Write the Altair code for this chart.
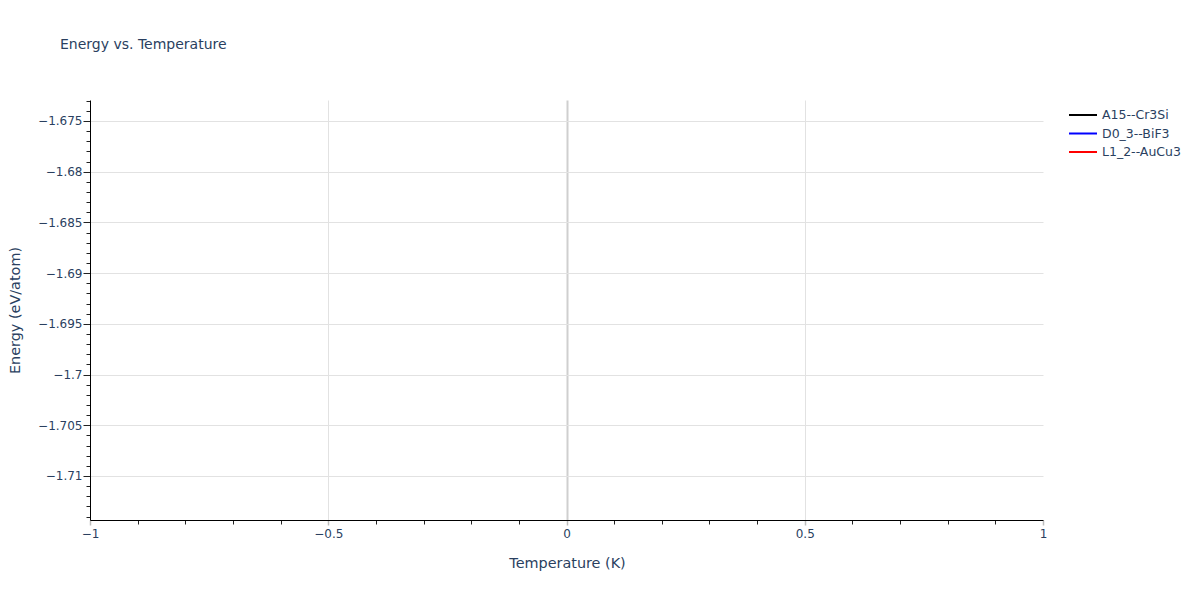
import altair as alt
import pandas as pd

# ---- data (the reference shows the legend but no visible points) ----
series_names = ["A15--Cr3Si", "D0_3--BiF3", "L1_2--AuCu3"]
series_colors = ["black", "blue", "red"]
temperature_A15 = []
energy_A15 = []
temperature_D03 = []
energy_D03 = []
temperature_L12 = []
energy_L12 = []

x_tick_values = [round(-1 + 0.1 * i, 1) for i in range(21)]
y_tick_values = [round(-1.714 + 0.001 * i, 3) for i in range(42)]
x_domain = [-1.0, 1.0]
y_domain = [-1.71434, -1.67293]

rows = []
for name, xs, ys in [
    (series_names[0], temperature_A15, energy_A15),
    (series_names[1], temperature_D03, energy_D03),
    (series_names[2], temperature_L12, energy_L12),
]:
    for t, e in zip(xs, ys):
        rows.append({"Temperature": t, "Energy": e, "Structure": name})
df = pd.DataFrame(rows, columns=["Temperature", "Energy", "Structure"])

FONT = "DejaVu Sans"
TXT = "#2a3f5f"

x_major = "abs(datum.value*2 - round(datum.value*2)) < 1e-6"
y_major = "abs(datum.value*200 - round(datum.value*200)) < 1e-6"

x_axis = alt.Axis(
    values=x_tick_values,
    labelExpr=f"({x_major}) ? format(datum.value, '~g') : ''",
    labelFont=FONT, labelFontSize=12, labelColor=TXT, labelPadding=3,
    labelFlush=False, labelOverlap=False,
    tickSize={"condition": {"test": x_major, "value": 5}, "value": 4},
    tickColor={"condition": {"test": x_major, "value": "#bdbdbd"}, "value": "#222222"},
    tickWidth={"condition": {"test": x_major, "value": 1.5}, "value": 1},
    grid=True,
    gridOpacity={"condition": {"test": f"({x_major}) && abs(datum.value) < 0.99", "value": 1}, "value": 0},
    gridColor={"condition": {"test": "abs(datum.value) < 1e-6", "value": "#cfcfcf"}, "value": "#e2e2e2"},
    gridWidth={"condition": {"test": "abs(datum.value) < 1e-6", "value": 2}, "value": 1},
    domainColor="black", domainWidth=1,
    title="Temperature (K)", titleFont=FONT, titleFontSize=14.4, titleColor=TXT,
    titleFontWeight="normal", titleX=477, titleY=43, titleAlign="center",
    titleBaseline="middle",
)

y_axis = alt.Axis(
    values=y_tick_values,
    labelExpr=f"({y_major}) ? format(datum.value, '~g') : ''",
    labelFont=FONT, labelFontSize=12, labelColor=TXT, labelPadding=1,
    labelFlush=False, labelOverlap=False,
    tickSize={"condition": {"test": y_major, "value": 7}, "value": 4},
    tickColor="#222222",
    grid=True,
    gridOpacity={"condition": {"test": y_major, "value": 1}, "value": 0},
    gridColor="#e2e2e2",
    domainColor="black", domainWidth=1,
    title="Energy (eV/atom)", titleFont=FONT, titleFontSize=14.4, titleColor=TXT,
    titleFontWeight="normal", titleX=-75, titleY=210, titleAngle=-90,
    titleAlign="center", titleBaseline="middle",
)

chart = alt.Chart(df).mark_line(strokeWidth=2).encode(
    x=alt.X("Temperature:Q", scale=alt.Scale(domain=x_domain, nice=False, zero=False), axis=x_axis),
    y=alt.Y("Energy:Q", scale=alt.Scale(domain=y_domain, nice=False, zero=False), axis=y_axis),
    color=alt.Color(
        "Structure:N",
        scale=alt.Scale(domain=series_names, range=series_colors),
        legend=alt.Legend(
            title=None, orient="none", legendX=985, legendY=7,
            symbolType="M-2,0H2", symbolSize=196, symbolStrokeWidth=2,
            labelFont=FONT, labelFontSize=12.5, labelColor=TXT,
            labelOffset=11, rowPadding=3.5,
        ),
    ),
).properties(
    width=953,
    height=420,
    background="white",
    title=alt.TitleParams(
        "Energy vs. Temperature", anchor="start", frame="group", dx=-30,
        offset=32, baseline="alphabetic", font=FONT, fontSize=14,
        fontWeight="normal", color=TXT,
    ),
    autosize=alt.AutoSizeParams(type="none"),
    padding={"left": 82, "top": 92, "right": 149, "bottom": 70},
).configure_view(strokeWidth=0, stroke="transparent")

chart.save("out.html", embed_options={"renderer": "svg", "actions": False})
